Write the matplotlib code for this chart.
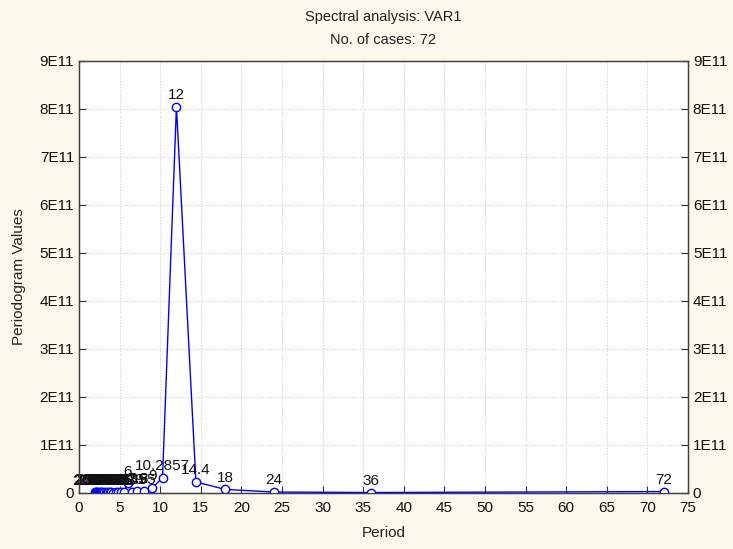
import matplotlib
matplotlib.use("Agg")
import matplotlib.pyplot as plt
from matplotlib.ticker import FixedLocator

plt.rcParams['font.family'] = ['Liberation Sans', 'DejaVu Sans']

# Frequency index k = 1..36 ; period = 72 / k
k_values = list(range(1, 37))
periods = [72.0 / k for k in k_values]
# Periodogram values, index order k = 1..36
periodogram = [3.0e9, 1.0e9, 2.0e9, 7.5e9, 2.3e10, 8.05e11, 3.2e10, 1.0e10,
               4.0e9, 5.0e9, 3.0e9, 2.0e10, 2.0e9, 3.0e9, 1.5e9, 2.5e9,
               1.0e9, 2.0e9, 1.2e9, 3.0e9, 1.0e9, 1.5e9, 2.0e9, 1.0e9,
               1.8e9, 0.8e9, 1.2e9, 2.2e9, 1.0e9, 0.6e9, 1.4e9, 0.9e9,
               1.6e9, 0.7e9, 1.1e9, 2.5e9]
y_ticks = [0, 1e11, 2e11, 3e11, 4e11, 5e11, 6e11, 7e11, 8e11, 9e11]
y_tick_labels = ['0', '1E11', '2E11', '3E11', '4E11', '5E11', '6E11', '7E11', '8E11', '9E11']
x_ticks = list(range(0, 80, 5))

bg = '#fdf8ec'
fig = plt.figure(figsize=(7.33, 5.49), dpi=100, facecolor=bg)
ax = fig.add_axes([79/733, 1 - 493/549, (688-79)/733, (493-61)/549])
ax.set_facecolor('white')

pairs = sorted(zip(periods, periodogram))
xs = [p for p, _ in pairs]
ys = [v for _, v in pairs]
ax.plot(xs, ys, color='#0000ff', lw=1.0, marker='o', ms=6,
        mfc='white', mec='#0000ff', mew=1.0, zorder=3)

for p, v in zip(periods, periodogram):
    lab = '%g' % round(p, 4) if abs(p - round(p)) > 1e-9 else '%d' % round(p)
    ax.annotate(lab, (p, v), xytext=(0, 3.5), textcoords='offset points',
                ha='center', va='bottom', fontsize=11, color='#111111', zorder=4)

ax.set_xlim(0, 75)
ax.set_ylim(0, 9e11)
ax.xaxis.set_major_locator(FixedLocator(x_ticks))
ax.set_xticklabels([str(t) for t in x_ticks])
ax.yaxis.set_major_locator(FixedLocator(y_ticks))
ax.set_yticklabels(y_tick_labels)
ax.tick_params(axis='both', direction='in', length=5, labelsize=11, colors='#333333',
               labelcolor='#111111', width=0.8)
ax.tick_params(axis='x', pad=6)
ax.grid(True, linestyle=(0, (1, 1.5)), color='#cfcfcf', lw=0.8)
for s in ax.spines.values():
    s.set_color('#404040')
    s.set_linewidth(1.0)

ax2 = ax.twinx()
ax2.set_ylim(0, 9e11)
ax2.yaxis.set_major_locator(FixedLocator(y_ticks))
ax2.set_yticklabels(y_tick_labels)
ax2.tick_params(axis='y', direction='in', length=5, labelsize=11, colors='#333333',
                labelcolor='#111111', width=0.8)
for s in ax2.spines.values():
    s.set_color('#404040')

ax.set_xlabel('Period', fontsize=11, color='#222222', labelpad=8)
ax.set_ylabel('Periodogram Values', fontsize=11, color='#222222', labelpad=10)

fig.text(383/733, 1 - 17/549, 'Spectral analysis: VAR1', ha='center', va='center',
         fontsize=10.5, color='#222222')
fig.text(383/733, 1 - 40/549, 'No. of cases: 72', ha='center', va='center',
         fontsize=10.5, color='#222222')

fig.savefig('out.png', dpi=100, facecolor=bg)
